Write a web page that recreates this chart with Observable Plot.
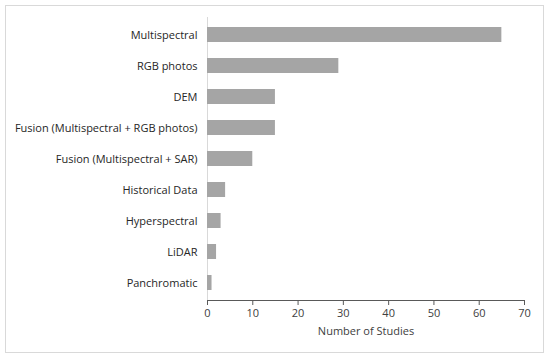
<!DOCTYPE html>
<html>
<head>
<meta charset="utf-8">
<script src="https://cdn.jsdelivr.net/npm/d3@7"></script>
<script src="https://cdn.jsdelivr.net/npm/@observablehq/plot@0.6"></script>
<style>
  html, body { margin: 0; padding: 0; background: #fff; }
  #wrap { position: relative; width: 550px; height: 357px; }
  #border { position: absolute; left: 5px; top: 5px; width: 537px; height: 346px; border: 1px solid #d9d9d9; pointer-events: none; }
</style>
</head>
<body>
<div id="wrap"><div id="border"></div></div>
<script>
const categories = [
  "Multispectral",
  "RGB photos",
  "DEM",
  "Fusion (Multispectral + RGB photos)",
  "Fusion (Multispectral + SAR)",
  "Historical Data",
  "Hyperspectral",
  "LiDAR",
  "Panchromatic"
];
const studies = [65, 29, 15, 15, 10, 4, 3, 2, 1];
const xTicks = [0, 10, 20, 30, 40, 50, 60, 70];
const xLabel = "Number of Studies";

const data = categories.map((c, i) => ({category: c, value: studies[i]}));

const chart = Plot.plot({
  width: 550,
  height: 357,
  marginLeft: 207,
  marginRight: 26,
  marginTop: 17,
  marginBottom: 57,
  style: {fontFamily: "'Open Sans', sans-serif", fontSize: "11px", background: "transparent"},
  x: {domain: [0, 70], ticks: xTicks},
  y: {domain: categories, paddingInner: 0.52, paddingOuter: 0.26},
  marks: [
    Plot.ruleX([0], {stroke: "#d9d9d9"}),
    Plot.barX(data, {x: "value", y: "category", fill: "#a5a5a5"}),
    Plot.frame({anchor: "bottom", stroke: "#595959"}),
    Plot.axisX({ticks: xTicks, tickSize: 5, tickPadding: 4, stroke: "#595959", color: "#404040", fontSize: 11, label: null}),
    Plot.text([xLabel], {frameAnchor: "bottom", lineAnchor: "middle", dy: 31, fill: "#404040", fontSize: 11, text: d => d}),
    Plot.axisY({tickSize: 0, tickPadding: 10, color: "#262626", fontSize: 11, label: null})
  ]
});
document.getElementById("wrap").prepend(chart);
</script>
</body>
</html>
